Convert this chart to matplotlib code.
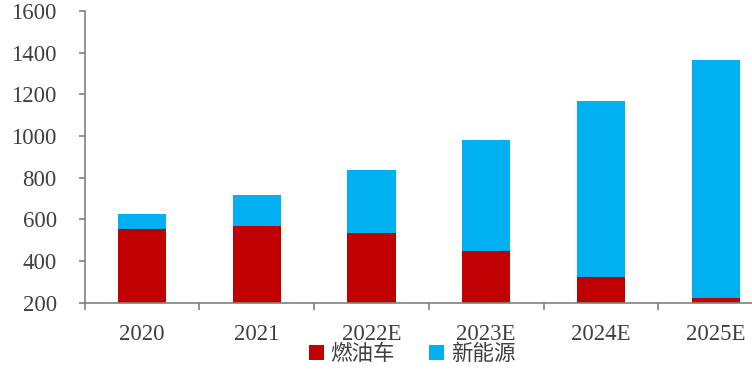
import matplotlib.pyplot as plt
import numpy as np

plt.rcParams['font.family'] = ['Liberation Serif', 'Noto Sans CJK SC', 'DejaVu Sans']

# data
years = ['2020', '2021', '2022E', '2023E', '2024E', '2025E']
fuel = [555, 570, 534, 447, 323, 224]          # 燃油车
total = [624, 717, 837, 981, 1166, 1366]
nev = [t - f for t, f in zip(total, fuel)]      # 新能源

red = '#C00000'
blue = '#00B0F0'
grey = '#808080'
txt = '#404040'

fig = plt.figure(figsize=(7.52, 3.7), dpi=100)
ax = fig.add_axes([0.1124, 0.1819, 0.9156, 0.7884])

x = np.arange(len(years))
ax.bar(x, fuel, width=0.42, color=red, label='燃油车')
ax.bar(x, nev, width=0.42, bottom=fuel, color=blue, label='新能源')

ax.set_ylim(200, 1600)
ax.set_yticks(range(200, 1601, 200))
ax.set_xlim(-0.5, len(years) - 0.5)

# category labels between the tick marks
ax.set_xticks(np.arange(-0.5, len(years), 1))
ax.set_xticklabels([])
ax.set_xticks(x, minor=True)
ax.set_xticklabels(years, minor=True)
ax.tick_params(axis='x', which='major', length=5, width=1.2, color=grey, direction='out')
ax.tick_params(axis='x', which='minor', length=0, pad=15)
ax.tick_params(axis='y', length=4.5, width=1.2, color=grey, pad=15.5)
for lab in ax.get_xticklabels(minor=True) + ax.get_yticklabels():
    lab.set_fontsize(16.5)
    lab.set_color(txt)

for s in ['top', 'right']:
    ax.spines[s].set_visible(False)
for s in ['left', 'bottom']:
    ax.spines[s].set_color(grey)
    ax.spines[s].set_linewidth(1.2)

leg = fig.legend(loc='center', bbox_to_anchor=(0.548, 0.04), ncol=2, frameon=False,
                 fontsize=15.5, handlelength=0.7, handleheight=0.7, handletextpad=0.3,
                 columnspacing=1.6)
for t in leg.get_texts():
    t.set_color(txt)

fig.savefig('out.png', dpi=100)
